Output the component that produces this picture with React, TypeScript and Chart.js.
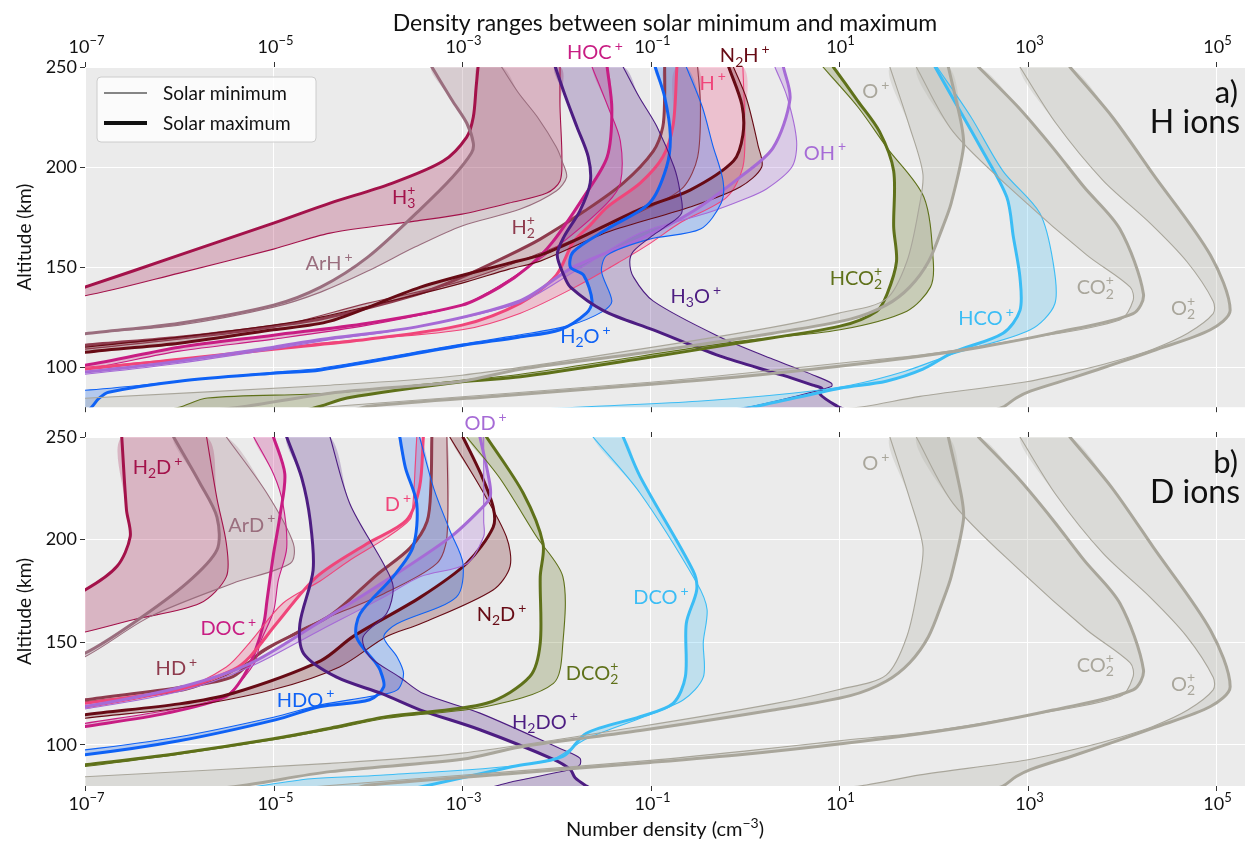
import React, { useEffect, useRef } from 'react';
import { Chart, registerables } from 'chart.js';
Chart.register(...registerables);

// Every point is [log10 density (cm^-3), altitude (km)]
type P = [number, number];

const X_TICK_EXP = [-7, -5, -3, -1, 1, 3, 5];
const Y_TICKS = [100, 150, 200, 250];
const X_MIN = 1e-7;
const X_MAX = 2.03e5;
const Y_MIN = 80;
const Y_MAX = 250;

// ---------------- H ions (panel a) ----------------
const H3P_MIN: P[] = [[-8, 130], [-7, 135.7], [-6, 147], [-5, 159], [-4.4, 167], [-3.5, 173], [-3, 176.5], [-2.5, 182], [-2.1, 187], [-1.96, 193], [-1.94, 205], [-1.96, 230], [-1.96, 250]];
const H3P_MAX: P[] = [[-8, 125], [-7, 140], [-6, 156], [-5, 172], [-4.4, 182], [-3.76, 191.6], [-3.2, 203], [-2.95, 215], [-2.88, 225], [-2.85, 240], [-2.83, 250]];
const ARHP_MIN: P[] = [[-8, 108], [-7, 116.5], [-6, 121], [-5, 130], [-4.5, 137.5], [-4, 148], [-3.5, 160], [-3, 170.6], [-2.38, 179], [-2, 188], [-1.89, 195], [-1.93, 202], [-2.0, 210], [-2.2, 225], [-2.4, 237], [-2.58, 250]];
const ARHP_MAX: P[] = [[-8, 110], [-7, 116.7], [-6, 122], [-5, 131], [-4.5, 140], [-4, 155], [-3.44, 179], [-3.1, 195], [-2.9, 207], [-2.88, 212], [-2.95, 222], [-3.1, 233], [-3.32, 250]];
const H2P_MIN: P[] = [[-8, 104], [-7, 109], [-6, 114], [-5, 120], [-4, 132], [-3, 143], [-2.17, 157], [-1.5, 170], [-1.0, 180], [-0.65, 190], [-0.5, 205], [-0.47, 230], [-0.5, 250]];
const H2P_MAX: P[] = [[-8, 106], [-7, 111], [-6, 115], [-5, 120.5], [-4.5, 124], [-3.5, 136], [-3, 145], [-2.5, 156], [-2.17, 164], [-1.7, 178], [-1.29, 192], [-0.97, 208], [-0.87, 220], [-0.85, 235], [-0.85, 250]];
const HOCP_MIN: P[] = [[-8, 94], [-7, 99], [-6, 108], [-5, 114], [-4, 121], [-3, 131], [-2.7, 138], [-2.3, 150], [-1.89, 164], [-1.46, 182], [-1.32, 192], [-1.32, 213], [-1.45, 230], [-1.62, 250]];
const HOCP_MAX: P[] = [[-8, 96], [-7, 101], [-6, 110], [-5, 116], [-4, 122], [-3, 131], [-2.6, 140], [-2.3, 150], [-2.04, 162.5], [-1.71, 185], [-1.46, 205], [-1.41, 229], [-1.46, 250]];
const HP_MIN: P[] = [[-8, 96], [-7, 100], [-6, 104], [-5, 109], [-4.5, 112], [-3, 118.7], [-2.38, 127], [-1.8, 140], [-1.26, 154.5], [-1.0, 162], [-0.69, 172], [-0.19, 185], [-0.02, 200], [0, 221], [-0.02, 250]];
const HP_MAX: P[] = [[-8, 95], [-7, 99], [-6, 104], [-5, 109], [-4, 114], [-3, 121], [-2.38, 132], [-2.0, 146], [-1.82, 162.5], [-1.64, 171], [-1.46, 180], [-1.11, 192], [-0.87, 205], [-0.76, 221], [-0.72, 250]];
const N2HP_MIN: P[] = [[-8, 105], [-7, 110], [-6, 115], [-5, 121], [-4.5, 125], [-3.5, 136], [-3, 142], [-2.5, 149], [-2.17, 153], [-1.46, 167.4], [-0.58, 180], [-0.05, 190], [0.18, 200], [0.14, 211], [0.02, 234], [-0.12, 250]];
const N2HP_MAX: P[] = [[-8, 100], [-7, 107.4], [-6, 112], [-5, 118.7], [-4.4, 123], [-3.44, 140], [-2.5, 152], [-2.17, 156], [-1.82, 163], [-1.11, 179], [-0.58, 188.5], [-0.12, 203], [-0.02, 216], [-0.03, 231], [-0.17, 250]];
const OHP_MIN: P[] = [[-8, 92], [-7, 96.5], [-6, 102], [-5, 109], [-4.5, 113], [-3.5, 120], [-2.4, 132], [-1.8, 148], [-1.11, 167], [-0.4, 177], [0, 184], [0.23, 189], [0.5, 200], [0.55, 213], [0.45, 235], [0.32, 250]];
const OHP_MAX: P[] = [[-8, 93], [-7, 97.6], [-6, 103], [-5, 110], [-4.5, 113.8], [-3.44, 120.5], [-2.38, 133.3], [-1.82, 150], [-1.11, 164], [-0.58, 177], [-0.05, 195], [0.3, 209.6], [0.48, 234], [0.41, 250]];
const H3OP_MIN: P[] = [[-0.2, 78], [0.09, 80.5], [0.5, 85], [0.92, 90.3], [0.92, 92], [0.73, 96], [0.3, 104], [-0.26, 115], [-0.97, 133], [-1.18, 145], [-1.22, 152.6], [-1.18, 158], [-1.0, 165], [-0.85, 170], [-0.67, 177], [-0.69, 188.5], [-0.75, 200], [-0.93, 220], [-1.12, 235], [-1.29, 250]];
const H3OP_MAX: P[] = [[1.1, 78], [0.98, 80.5], [0.80, 86.4], [0.82, 89.3], [0.72, 91], [0.4, 96], [-0.26, 105.5], [-0.97, 118.6], [-1.5, 128.3], [-1.85, 140], [-1.92, 146], [-1.99, 156], [-1.92, 165], [-1.75, 178], [-1.64, 192], [-1.66, 205], [-1.78, 220], [-1.9, 235], [-2.01, 250]];
const H2OP_MIN: P[] = [[-8, 87], [-7, 88.5], [-6, 93], [-5, 97.5], [-4.5, 99.5], [-3, 111.5], [-2.4, 116], [-1.85, 121], [-1.5, 128], [-1.41, 133], [-1.52, 148], [-1.46, 156], [-1.01, 164], [-0.47, 169], [-0.25, 182], [-0.23, 193], [-0.34, 211], [-0.45, 230], [-0.62, 250]];
const H2OP_MAX: P[] = [[-7.0, 77], [-6.93, 80], [-6.85, 84.5], [-6.75, 87.5], [-6, 93], [-5, 97], [-4.5, 98.6], [-3, 110.8], [-2.4, 115], [-1.96, 118.7], [-1.68, 127], [-1.62, 133], [-1.71, 146], [-1.85, 150], [-1.82, 157.6], [-1.46, 169], [-1.01, 182], [-0.83, 200], [-0.79, 216], [-0.85, 235], [-0.95, 250]];
const HCO2P_MIN: P[] = [[-6.2, 78], [-6, 80], [-5.7, 84.6], [-4.4, 87], [-3, 93.5], [-2.38, 96.5], [-1.11, 105.5], [-0.05, 113], [1.01, 118.7], [1.72, 128], [1.97, 140], [2.0, 153], [1.9, 185], [1.51, 209.6], [1.2, 230], [0.83, 250]];
const HCO2P_MAX: P[] = [[-4.7, 78], [-4.5, 80.5], [-4.22, 84.6], [-3, 92.7], [-2.38, 95.2], [-1.11, 104.2], [-0.05, 112.2], [1.01, 120.5], [1.4, 128], [1.51, 136.6], [1.61, 152.8], [1.58, 170], [1.58, 198], [1.43, 217.7], [1.2, 233], [0.94, 250]];
const HCOP_MIN: P[] = [[-2.2, 79], [-1.57, 80.5], [-0.5, 83], [0.5, 87], [1.12, 91], [1.7, 98], [2.21, 106.6], [3.03, 118.7], [3.29, 131.7], [3.27, 152.8], [3.13, 177], [2.74, 198], [2.4, 225], [2.04, 250]];
const HCOP_MAX: P[] = [[-0.2, 78], [0.13, 80.5], [1.01, 89.5], [1.5, 93], [1.89, 99], [2.21, 107.4], [2.74, 117], [2.92, 128.4], [2.92, 144.7], [2.85, 165], [2.78, 185], [2.5, 210], [2.2, 235], [2.02, 250]];

// ---------------- major ions (both panels) ----------------
const OP_MIN: P[] = [[-8, 82], [-7, 84.5], [-4.4, 91], [-3, 96], [-1.11, 109], [0.3, 120], [1.0, 127], [1.5, 134], [1.72, 152.8], [1.85, 180], [1.89, 196.6], [1.75, 220], [1.54, 250]];
const OP_MAX: P[] = [[-6, 77], [-5.36, 80], [-4.4, 87], [-3, 93], [-2.38, 99], [-1.11, 107], [0.3, 117], [1.12, 124], [1.5, 131], [1.75, 140], [1.95, 152.8], [2.1, 170], [2.19, 182], [2.32, 209.6], [2.30, 221], [2.16, 250]];
const CO2P_MIN: P[] = [[-5, 78], [-4.2, 81], [-2.5, 87], [-1.0, 92.5], [0, 97], [1, 102], [1.86, 106], [2.92, 113.8], [3.98, 123.6], [4.12, 133.3], [4.09, 140], [3.63, 156], [2.92, 185], [2.21, 217.7], [1.82, 250]];
const CO2P_MAX: P[] = [[-4.2, 78], [-3.98, 80.5], [-2.5, 86], [-1.0, 91.5], [0, 95.5], [1, 100.5], [1.86, 105.5], [2.5, 110], [3.27, 117], [4.12, 126.8], [4.23, 136.6], [3.98, 169], [3.6, 190], [3.27, 209.6], [2.9, 230], [2.48, 250]];
const O2P_MIN: P[] = [[1.0, 79], [1.29, 80.5], [1.86, 85.4], [2.99, 92.7], [3.6, 99], [4.0, 104], [4.33, 109], [4.7, 117], [4.97, 126.8], [4.97, 133], [4.69, 152.8], [4.3, 172], [3.80, 193.4], [3.3, 222], [2.92, 250]];
const O2P_MAX: P[] = [[2.6, 78], [2.74, 80], [2.88, 84.6], [3.03, 88], [3.5, 95], [3.98, 102.5], [4.33, 108.2], [4.94, 118.7], [5.15, 128.4], [4.94, 156], [4.33, 196.6], [3.9, 225], [3.45, 250]];

// ---------------- D ions (panel b) ----------------
const H2DP_MIN: P[] = [[-7.5, 151], [-7, 155], [-6.49, 161], [-5.78, 169], [-5.5, 182], [-5.5, 198], [-5.6, 220], [-5.71, 250]];
const H2DP_MAX: P[] = [[-7.5, 165], [-7, 175.5], [-6.66, 187], [-6.52, 201.5], [-6.56, 214.5], [-6.61, 250]];
const ARDP_MIN: P[] = [[-7.5, 135], [-7, 143], [-6.31, 162.5], [-5.43, 178.8], [-4.82, 188.5], [-4.79, 198.2], [-5.07, 222.6], [-5.5, 250]];
const ARDP_MAX: P[] = [[-7.5, 137], [-7, 144.7], [-6.49, 159.3], [-5.92, 178.8], [-5.6, 195], [-5.6, 211], [-5.78, 227.5], [-6.06, 250]];
const DOCP_MIN: P[] = [[-8, 103], [-7, 110.5], [-6.1, 117], [-5.6, 122], [-5.46, 125.5], [-5.2, 140], [-5.14, 150], [-5.0, 165], [-4.95, 180], [-4.86, 196], [-4.9, 217.5], [-5.0, 232], [-5.21, 250]];
const DOCP_MAX: P[] = [[-8, 102], [-7, 109], [-6.13, 115.5], [-5.5, 123.6], [-5.32, 133.3], [-5.2, 145], [-5.1, 160], [-5.07, 170], [-5.0, 193], [-4.93, 212], [-4.88, 232], [-5.0, 250]];
const DP_MIN: P[] = [[-8, 111], [-7, 118], [-6, 127], [-5.5, 138], [-5.25, 150], [-4.9, 169], [-4.5, 180], [-4.19, 190], [-3.8, 201], [-3.55, 210], [-3.52, 217.5], [-3.48, 250]];
const DP_MAX: P[] = [[-8, 113], [-7, 120.3], [-6, 127], [-5.43, 136.6], [-5.25, 143], [-4.97, 159], [-4.54, 182], [-4.01, 198], [-3.59, 209.4], [-3.45, 225.7], [-3.41, 250]];
const HDP_MIN: P[] = [[-8, 114], [-7, 121], [-6, 126], [-5.5, 134], [-5.25, 141], [-4.72, 156], [-3.83, 173.7], [-3.27, 188.3], [-3.16, 201.3], [-3.16, 250]];
const HDP_MAX: P[] = [[-8, 115], [-7, 122], [-6, 128], [-5.43, 133.3], [-5.11, 146], [-4.4, 163], [-3.9, 183], [-3.55, 196], [-3.37, 209], [-3.33, 226], [-3.32, 250]];
const N2DP_MIN: P[] = [[-8, 106], [-7, 113], [-6, 118], [-5, 127], [-4.3, 138], [-3.8, 152.8], [-3.44, 159], [-2.67, 175.5], [-2.49, 187], [-2.53, 201.5], [-2.8, 225], [-3.13, 250]];
const N2DP_MAX: P[] = [[-8, 108], [-7, 114.7], [-6, 120], [-5.43, 125.2], [-4.5, 141], [-4.15, 153], [-3.44, 172], [-2.95, 188.5], [-2.67, 206], [-2.67, 216], [-2.8, 232], [-2.99, 250]];
const ODP_MIN: P[] = [[-8, 111], [-7, 117.5], [-6, 126], [-5.25, 138], [-4.5, 156], [-3.83, 172], [-3.44, 182], [-2.95, 188.3], [-2.77, 201.5], [-2.77, 209], [-2.77, 250]];
const ODP_MAX: P[] = [[-8, 112], [-7, 118.7], [-6, 128], [-5.25, 139.6], [-4.54, 159], [-3.91, 177], [-3.13, 201], [-2.81, 214.5], [-2.70, 221], [-2.72, 231], [-2.81, 250]];
const H2DOP_MIN: P[] = [[-2.8, 78], [-2.6, 80.5], [-2.46, 82.2], [-1.85, 88], [-1.75, 90.3], [-1.75, 93.6], [-1.93, 97.6], [-2.81, 115.5], [-3.41, 125], [-3.66, 133], [-3.98, 143], [-4.05, 152.6], [-3.8, 164], [-3.73, 177], [-3.83, 188], [-4.19, 217.5], [-4.4, 250]];
const H2DOP_MAX: P[] = [[-1.6, 78], [-1.68, 80], [-1.8, 84], [-1.85, 88], [-2.03, 93], [-2.81, 107.4], [-3.44, 117], [-3.85, 125], [-4.33, 133], [-4.68, 144.5], [-4.72, 159], [-4.58, 185], [-4.61, 209], [-4.7, 230], [-4.86, 250]];
const HDOP_MIN: P[] = [[-8, 93], [-7, 97.6], [-6, 104], [-5, 113.5], [-4.5, 119.5], [-3.98, 123.6], [-3.69, 126.7], [-3.62, 134.7], [-3.69, 143], [-3.83, 152.6], [-3.69, 159], [-3.06, 172], [-2.99, 188.3], [-3.13, 204.6], [-3.3, 225], [-3.45, 250]];
const HDOP_MAX: P[] = [[-8, 91], [-7, 95.2], [-6, 102], [-4.98, 112.2], [-4.5, 118.7], [-3.98, 122], [-3.83, 128.4], [-3.87, 136.6], [-3.91, 139.6], [-4.12, 152.6], [-4.08, 164], [-3.73, 182], [-3.52, 196.4], [-3.48, 217.5], [-3.6, 235], [-3.66, 250]];
const DCO2P_MIN: P[] = [[-8, 84], [-7, 89.5], [-6, 95.5], [-5, 102.5], [-4.4, 107.5], [-3.8, 113], [-2.74, 118.7], [-2.03, 130], [-1.93, 149.6], [-1.93, 182], [-2.21, 201.5], [-2.6, 230], [-2.95, 250]];
const DCO2P_MAX: P[] = [[-8, 85], [-7, 90.3], [-6, 96], [-5, 103], [-4.4, 108.2], [-3.8, 113.8], [-2.74, 120.3], [-2.28, 133.3], [-2.17, 149.6], [-2.17, 182], [-2.14, 198], [-2.35, 222.6], [-2.74, 250]];
const DCOP_MIN: P[] = [[-5.3, 79], [-4.6, 83.5], [-3.87, 85.2], [-2.1, 91.9], [-1.68, 103], [-1.11, 113], [-0.65, 122], [-0.44, 133], [-0.44, 150], [-0.40, 166], [-0.51, 179], [-1.11, 222.6], [-1.61, 250]];
const DCOP_MAX: P[] = [[-3.6, 78], [-3.34, 80.5], [-2.46, 89.5], [-1.93, 94.4], [-1.68, 105.7], [-1.11, 113.8], [-0.76, 120.3], [-0.63, 133.3], [-0.62, 159.3], [-0.51, 175.5], [-0.55, 185], [-1.11, 230.7], [-1.29, 250]];

// ---------------- colours ----------------
const CRIMSON = '#a3124a';
const MAUVE = '#9a6e7e';
const BROWN = '#8e3b4d';
const MAGENTA = '#c81d83';
const PINK = '#f0457a';
const MAROON = '#670b15';
const LAVENDER = '#a66bd6';
const PURPLE = '#4d1d82';
const BLUE = '#0f62f5';
const OLIVE = '#5f711a';
const SKY = '#3bbdf5';
const GRAY = '#a9a69b';

type Species = { color: string; min: P[]; max: P[] };

const MAJOR: Species[] = [
  { color: GRAY, min: OP_MIN, max: OP_MAX },
  { color: GRAY, min: CO2P_MIN, max: CO2P_MAX },
  { color: GRAY, min: O2P_MIN, max: O2P_MAX },
];

const H_SPECIES: Species[] = [
  ...MAJOR,
  { color: SKY, min: HCOP_MIN, max: HCOP_MAX },
  { color: OLIVE, min: HCO2P_MIN, max: HCO2P_MAX },
  { color: PURPLE, min: H3OP_MIN, max: H3OP_MAX },
  { color: BLUE, min: H2OP_MIN, max: H2OP_MAX },
  { color: LAVENDER, min: OHP_MIN, max: OHP_MAX },
  { color: MAROON, min: N2HP_MIN, max: N2HP_MAX },
  { color: PINK, min: HP_MIN, max: HP_MAX },
  { color: MAGENTA, min: HOCP_MIN, max: HOCP_MAX },
  { color: BROWN, min: H2P_MIN, max: H2P_MAX },
  { color: MAUVE, min: ARHP_MIN, max: ARHP_MAX },
  { color: CRIMSON, min: H3P_MIN, max: H3P_MAX },
];

const D_SPECIES: Species[] = [
  ...MAJOR,
  { color: SKY, min: DCOP_MIN, max: DCOP_MAX },
  { color: OLIVE, min: DCO2P_MIN, max: DCO2P_MAX },
  { color: PURPLE, min: H2DOP_MIN, max: H2DOP_MAX },
  { color: BLUE, min: HDOP_MIN, max: HDOP_MAX },
  { color: LAVENDER, min: ODP_MIN, max: ODP_MAX },
  { color: MAROON, min: N2DP_MIN, max: N2DP_MAX },
  { color: PINK, min: DP_MIN, max: DP_MAX },
  { color: MAGENTA, min: DOCP_MIN, max: DOCP_MAX },
  { color: BROWN, min: HDP_MIN, max: HDP_MAX },
  { color: MAUVE, min: ARDP_MIN, max: ARDP_MAX },
  { color: CRIMSON, min: H2DP_MIN, max: H2DP_MAX },
];

// label text (mathtext-like), log10 density, altitude, colour
type Lab = [string, number, number, string];
const H_LABELS: Lab[] = [
  ['H_3^+', -3.62, 185, CRIMSON], ['ArH^+', -4.41, 152, MAUVE], ['H_2^+', -2.35, 170, BROWN],
  ['HOC^+', -1.59, 257.3, MAGENTA], ['N_2H^+', 0.0, 255.8, MAROON], ['H^+', -0.34, 242.2, PINK],
  ['OH^+', 0.85, 207.2, LAVENDER], ['H_3O^+', -0.52, 135.6, PURPLE], ['H_2O^+', -1.69, 115.6, BLUE],
  ['HCO_2^+', 1.18, 144.8, OLIVE], ['HCO^+', 2.56, 124.4, SKY], ['CO_2^+', 3.72, 140, GRAY],
  ['O_2^+', 4.65, 129.7, GRAY], ['O^+', 1.39, 237.8, GRAY],
];
const D_LABELS: Lab[] = [
  ['H_2D^+', -6.23, 235.4, CRIMSON], ['ArD^+', -5.23, 207.2, MAUVE], ['DOC^+', -5.48, 157, MAGENTA],
  ['HD^+', -6.03, 137.5, BROWN], ['D^+', -3.68, 217.4, PINK], ['N_2D^+', -2.58, 163.8, MAROON],
  ['OD^+', -2.75, 256.8, LAVENDER], ['H_2DO^+', -2.12, 111.2, PURPLE], ['HDO^+', -4.66, 122, BLUE],
  ['DCO_2^+', -1.62, 135, OLIVE], ['DCO^+', -0.89, 172.1, SKY], ['O^+', 1.39, 237.3, GRAY],
  ['CO_2^+', 3.72, 139, GRAY], ['O_2^+', 4.65, 129.7, GRAY],
];

const FONT = 'Lato, "Noto Sans", sans-serif';

// ---------------- helpers ----------------
const toXY = (p: P) => ({ x: Math.pow(10, p[0]), y: p[1] });
function rgba(hex: string, a: number) {
  const n = parseInt(hex.slice(1), 16);
  return `rgba(${(n >> 16) & 255},${(n >> 8) & 255},${n & 255},${a})`;
}

type Tok = { kind: 'n' | 'sub' | 'sup' | 'ss'; t?: string; sub?: string; sup?: string };
function parseRich(s: string): Tok[] {
  const out: Tok[] = [];
  let i = 0;
  const group = () => {
    if (s[i] === '{') { const j = s.indexOf('}', i); const g = s.slice(i + 1, j); i = j + 1; return g; }
    const g = s[i]; i++; return g;
  };
  while (i < s.length) {
    const c = s[i];
    if (c === '_') {
      i++; const sub = group();
      if (s[i] === '^') { i++; const sup = group(); out.push({ kind: 'ss', sub, sup }); }
      else out.push({ kind: 'sub', t: sub });
    } else if (c === '^') {
      i++; out.push({ kind: 'sup', t: group() });
    } else {
      const last = out[out.length - 1];
      if (last && last.kind === 'n') last.t += c; else out.push({ kind: 'n', t: c });
      i++;
    }
  }
  return out;
}
function drawRich(ctx: CanvasRenderingContext2D, s: string, x: number, y: number, size: number, color: string,
  align: 'left' | 'center' | 'right' = 'center', supGap = 0) {
  const toks = parseRich(s);
  const big = `${size}px ${FONT}`;
  const small = `${Math.round(size * 0.7)}px ${FONT}`;
  const widths = toks.map(tk => {
    if (tk.kind === 'n') { ctx.font = big; return ctx.measureText(tk.t!).width; }
    ctx.font = small;
    if (tk.kind === 'ss') return Math.max(ctx.measureText(tk.sub!).width, ctx.measureText(tk.sup!).width);
    return ctx.measureText(tk.t!).width + (tk.kind === 'sup' ? supGap : 0);
  });
  const total = widths.reduce((a, b) => a + b, 0);
  let cx = align === 'center' ? x - total / 2 : align === 'right' ? x - total : x;
  ctx.fillStyle = color;
  ctx.textAlign = 'left';
  ctx.textBaseline = 'alphabetic';
  toks.forEach((tk, k) => {
    if (tk.kind === 'n') { ctx.font = big; ctx.fillText(tk.t!, cx, y); }
    else {
      ctx.font = small;
      if (tk.kind === 'sub') ctx.fillText(tk.t!, cx, y + size * 0.22);
      else if (tk.kind === 'sup') ctx.fillText(tk.t!, cx + supGap, y - size * 0.42);
      else { ctx.fillText(tk.sub!, cx, y + size * 0.22); ctx.fillText(tk.sup!, cx, y - size * 0.45); }
    }
    cx += widths[k];
  });
}

function buildDatasets(species: Species[]) {
  const common = { pointRadius: 0, tension: 0.3, spanGaps: true };
  const fills = species.map(s => ({
    ...common,
    data: [...s.min, ...[...s.max].reverse()].map(toXY),
    borderWidth: 0,
    borderColor: 'rgba(0,0,0,0)',
    backgroundColor: rgba(s.color, 0.25),
    fill: 'shape',
    order: 5,
  }));
  const lines: any[] = [];
  species.forEach(s => {
    lines.push({ ...common, data: s.min.map(toXY), borderColor: s.color, borderWidth: 1.1, fill: false, order: 1 });
    lines.push({ ...common, data: s.max.map(toXY), borderColor: s.color, borderWidth: 3, fill: false, order: 1 });
  });
  return [...lines, ...fills];
}

function makeChart(canvas: HTMLCanvasElement, panel: 'a' | 'b') {
  const isTop = panel === 'a';
  const species = isTop ? H_SPECIES : D_SPECIES;
  const labels = isTop ? H_LABELS : D_LABELS;

  const deco = {
    id: 'deco',
    beforeDraw(chart: any) {
      const { ctx, chartArea: a } = chart;
      ctx.save();
      ctx.fillStyle = '#ebebeb';
      ctx.fillRect(a.left, a.top, a.right - a.left, a.bottom - a.top);
      ctx.restore();
    },
    afterDraw(chart: any) {
      const { ctx, chartArea: a } = chart;
      const xs = chart.scales.x;
      const ys = chart.scales.y;
      ctx.save();
      ctx.strokeStyle = '#333';
      ctx.lineWidth = 1;
      X_TICK_EXP.forEach(e => {
        const px = Math.round(xs.getPixelForValue(Math.pow(10, e))) + 0.5;
        ctx.beginPath();
        ctx.moveTo(px, a.top - 5); ctx.lineTo(px, a.top);
        ctx.moveTo(px, a.bottom); ctx.lineTo(px, a.bottom + 5);
        ctx.stroke();
        const label = `10^{${e < 0 ? '\u2212' : ''}${Math.abs(e)}}`;
        const by = isTop ? a.top - 14 : a.bottom + 24;
        drawRich(ctx, label, px + 1, by, 18, '#111', 'center');
      });
      if (isTop) {
        drawRich(ctx, 'Density ranges between solar minimum and maximum', (a.left + a.right) / 2, 31, 23, '#111', 'center');
      } else {
        drawRich(ctx, 'Number density (cm^{\u22123})', (a.left + a.right) / 2, a.bottom + 50, 20, '#111', 'center');
      }
      ctx.save();
      ctx.translate(24, (a.top + a.bottom) / 2);
      ctx.rotate(-Math.PI / 2);
      drawRich(ctx, 'Altitude (km)', 0, 7, 19, '#111', 'center');
      ctx.restore();

      labels.forEach(([t, lx, alt, col]) => {
        const px = xs.getPixelForValue(Math.pow(10, lx));
        const py = ys.getPixelForValue(alt);
        drawRich(ctx, t, px, py + 7, 20, col, 'center', 3);
      });

      drawRich(ctx, isTop ? 'a)' : 'b)', a.right - 7, a.top + 36, 31, '#111', 'right');
      drawRich(ctx, isTop ? 'H ions' : 'D ions', a.right - 5, a.top + 66, 32, '#111', 'right');

      if (isTop) {
        const x0 = a.left + 12, y0 = a.top + 10, w = 219, h = 65, r = 4;
        ctx.beginPath();
        ctx.moveTo(x0 + r, y0);
        ctx.arcTo(x0 + w, y0, x0 + w, y0 + h, r);
        ctx.arcTo(x0 + w, y0 + h, x0, y0 + h, r);
        ctx.arcTo(x0, y0 + h, x0, y0, r);
        ctx.arcTo(x0, y0, x0 + w, y0, r);
        ctx.closePath();
        ctx.fillStyle = 'rgba(255,255,255,0.8)';
        ctx.fill();
        ctx.strokeStyle = '#cccccc';
        ctx.lineWidth = 1;
        ctx.stroke();
        ctx.strokeStyle = '#111';
        ctx.lineWidth = 1.2;
        ctx.beginPath(); ctx.moveTo(x0 + 7, y0 + 16); ctx.lineTo(x0 + 50, y0 + 16); ctx.stroke();
        ctx.lineWidth = 4;
        ctx.beginPath(); ctx.moveTo(x0 + 7, y0 + 46); ctx.lineTo(x0 + 50, y0 + 46); ctx.stroke();
        drawRich(ctx, 'Solar minimum', x0 + 66, y0 + 23, 19, '#111', 'left');
        drawRich(ctx, 'Solar maximum', x0 + 66, y0 + 53, 19, '#111', 'left');
      }
      ctx.restore();
    },
  };

  return new Chart(canvas, {
    type: 'line',
    data: { datasets: buildDatasets(species) as any },
    options: {
      animation: false,
      responsive: false,
      devicePixelRatio: 1,
      layout: { padding: isTop ? { top: 0, bottom: 5, left: 0, right: 1 } : { top: 37, bottom: 0, left: 0, right: 1 } },
      plugins: { legend: { display: false }, tooltip: { enabled: false } },
      elements: { line: { capBezierPoints: false, borderCapStyle: 'round', borderJoinStyle: 'round' }, point: { radius: 0 } },
      scales: {
        x: {
          type: 'logarithmic',
          position: isTop ? 'top' : 'bottom',
          min: X_MIN,
          max: X_MAX,
          afterBuildTicks: (s: any) => { s.ticks = X_TICK_EXP.map(e => ({ value: Math.pow(10, e) })); },
          afterFit: (s: any) => { s.height = isTop ? 67 : 57; },
          ticks: { display: false },
          grid: { color: '#ffffff', lineWidth: 1, drawTicks: false },
          border: { display: false },
        },
        y: {
          type: 'linear',
          min: Y_MIN,
          max: Y_MAX,
          afterBuildTicks: (s: any) => { s.ticks = Y_TICKS.map(v => ({ value: v })); },
          afterFit: (s: any) => { s.width = 85; },
          ticks: { font: { family: FONT, size: 18 }, color: '#111', padding: 3 },
          grid: { color: '#ffffff', lineWidth: 1, drawTicks: true, tickLength: 5, tickColor: '#333' },
          border: { display: false },
        },
      },
    } as any,
    plugins: [deco],
  });
}

export default function App() {
  const topRef = useRef<HTMLCanvasElement>(null);
  const botRef = useRef<HTMLCanvasElement>(null);
  useEffect(() => {
    const c1 = makeChart(topRef.current!, 'a');
    const c2 = makeChart(botRef.current!, 'b');
    return () => { c1.destroy(); c2.destroy(); };
  }, []);
  return (
    <div style={{ position: 'absolute', left: 0, top: 0, width: 1246, height: 843, background: '#fff' }}>
      <canvas ref={topRef} width={1246} height={421} style={{ position: 'absolute', left: 0, top: 0, width: 1246, height: 421 }} />
      <canvas ref={botRef} width={1246} height={443} style={{ position: 'absolute', left: 0, top: 400, width: 1246, height: 443 }} />
    </div>
  );
}
